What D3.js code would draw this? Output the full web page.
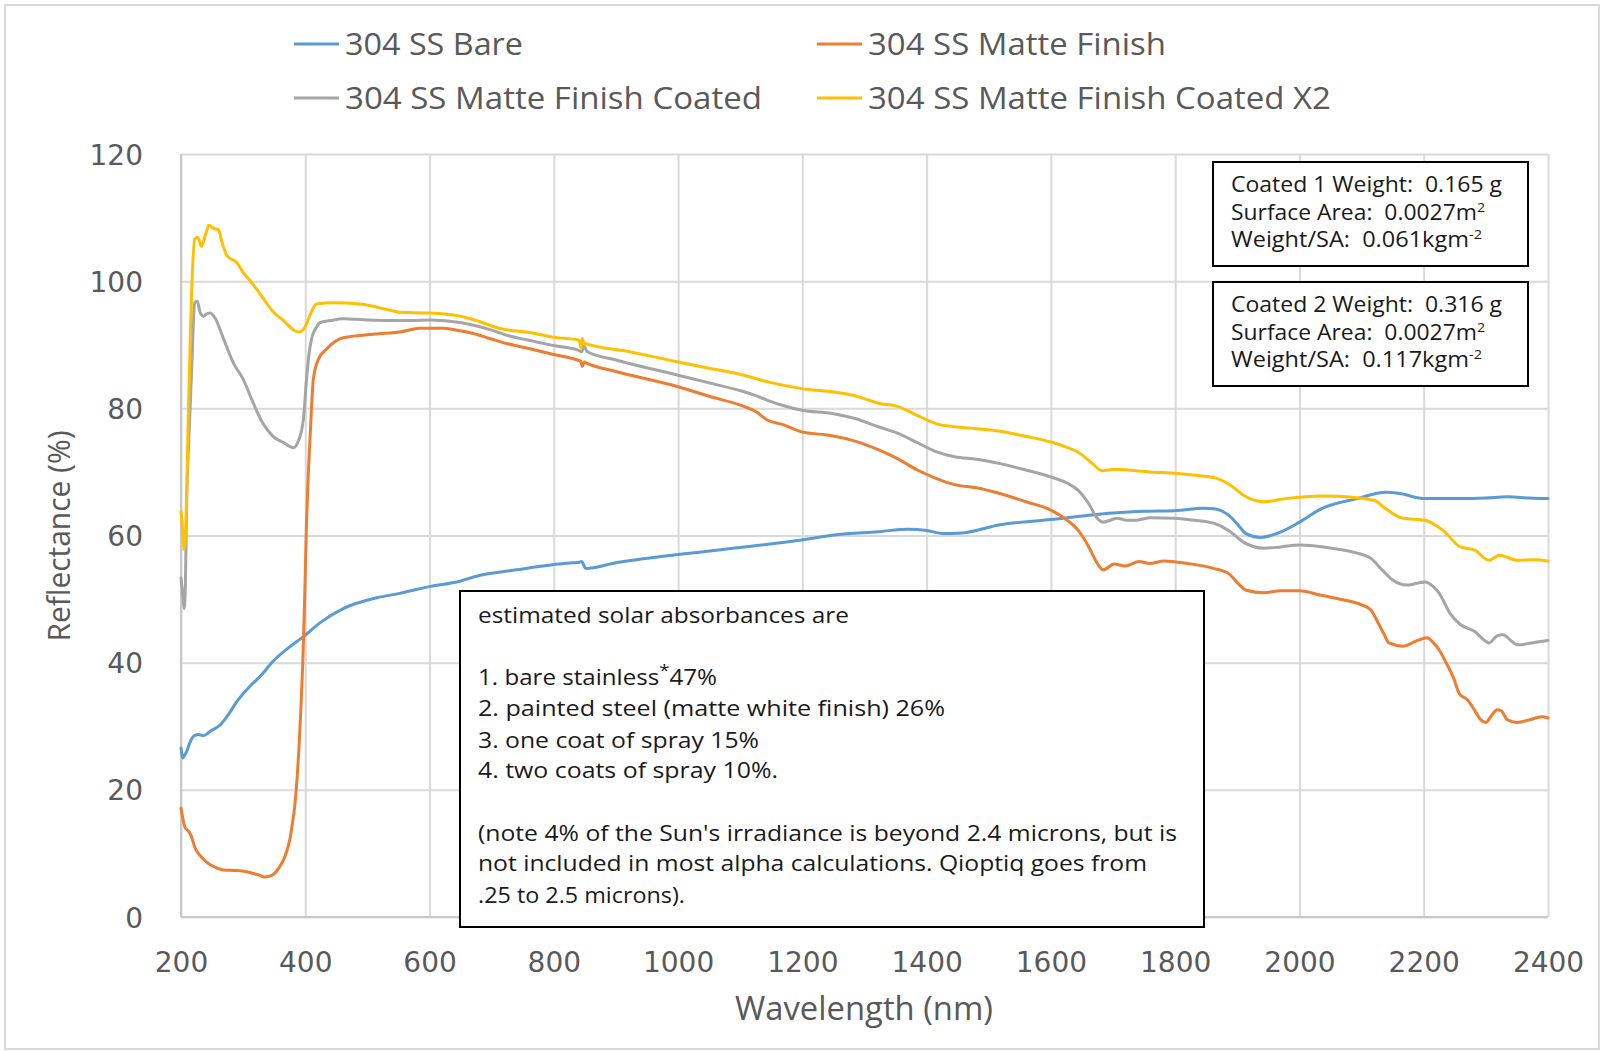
<!DOCTYPE html>
<html>
<head>
<meta charset="utf-8">
<script src="https://cdn.jsdelivr.net/npm/d3@7"></script>
<style>
  html, body { margin: 0; padding: 0; background: #fff; }
  svg { display: block; }
  text { white-space: pre; }
</style>
</head>
<body>
<svg id="chart" width="1602" height="1051"></svg>
<script>
// Reflectance spectra, [wavelength nm, reflectance %]
const bare = [[200,26.6],[203,25.0],[206,25.5],[209,26.0],[215,27.6],[220,28.4],[228,28.7],[236,28.5],[247,29.2],[263,30.2],[276,31.8],[290,33.9],[311,36.3],[327,37.8],[348,40.2],[370,42.1],[397,44.1],[424,46.3],[461,48.5],[515,50.2],[552,50.9],[601,52.0],[649,52.8],[675,53.6],[740,54.6],[798,55.4],[830,55.7],[841,55.8],[845,55.9],[848,55.4],[851,54.8],[900,55.7],[1000,57.0],[1100,58.1],[1199,59.3],[1254,60.1],[1322,60.6],[1371,61.0],[1400,60.8],[1427,60.3],[1457,60.4],[1518,61.7],[1600,62.5],[1673,63.3],[1748,63.8],[1799,63.9],[1845,64.3],[1863,64.2],[1886,63.2],[1900,61.8],[1914,60.3],[1937,59.7],[1966,60.4],[2000,62.1],[2035,64.2],[2093,65.8],[2139,66.8],[2161,66.6],[2202,65.8],[2259,65.8],[2300,65.9],[2334,66.1],[2370,65.9],[2400,65.8]];

const matte = [[200,17.1],[203,15.5],[206,14.2],[212,13.5],[217,12.6],[222,11.0],[228,10.0],[237,9.0],[247,8.2],[258,7.7],[268,7.4],[290,7.3],[311,7.0],[325,6.6],[335,6.3],[345,6.5],[351,6.9],[358,7.8],[365,9.0],[370,10.3],[375,12.1],[379,14.5],[383,17.4],[387,22.0],[390,26.8],[393,33.0],[396,40.0],[399,50.0],[402,62.0],[405,70.0],[408,76.0],[413,84.6],[421,87.7],[434,89.3],[461,91.1],[515,91.7],[552,92.0],[585,92.6],[601,92.6],[622,92.6],[649,92.2],[669,91.8],[700,90.9],[724,90.2],[760,89.4],[798,88.5],[838,87.6],[843,87.4],[846,86.6],[849,87.3],[851,87.2],[900,85.8],[1000,83.4],[1050,81.9],[1106,80.3],[1125,79.5],[1143,78.2],[1170,77.4],[1199,76.3],[1240,75.8],[1279,75.0],[1322,73.5],[1353,72.1],[1385,70.3],[1415,69.0],[1445,68.0],[1480,67.5],[1518,66.6],[1560,65.3],[1600,64.0],[1625,62.5],[1644,60.8],[1661,58.2],[1673,55.9],[1684,54.6],[1702,55.5],[1719,55.2],[1742,55.9],[1759,55.6],[1782,56.0],[1820,55.6],[1863,54.8],[1886,54.0],[1900,52.6],[1914,51.4],[1943,51.0],[1970,51.3],[2000,51.3],[2035,50.6],[2070,49.9],[2100,49.1],[2115,48.3],[2127,46.2],[2136,44.5],[2144,43.1],[2167,42.6],[2190,43.5],[2205,43.9],[2215,43.2],[2225,42.0],[2236,40.0],[2248,37.6],[2258,35.0],[2270,34.2],[2282,32.5],[2292,31.0],[2300,30.6],[2310,31.8],[2318,32.6],[2325,32.4],[2335,31.0],[2350,30.6],[2370,31.0],[2390,31.5],[2400,31.3]];

const coated = [[200,53.3],[203,50.5],[205,48.5],[207,52.0],[209,64.6],[213,76.0],[217,85.7],[222,96.6],[226,96.9],[231,95.0],[236,94.5],[242,94.9],[247,95.0],[252,94.6],[257,93.8],[265,91.8],[273,89.8],[284,87.2],[300,84.6],[316,80.9],[332,77.6],[348,75.6],[365,74.6],[381,73.8],[389,74.9],[394,76.5],[397,78.3],[402,84.6],[406,88.5],[410,90.9],[417,92.6],[424,93.5],[440,93.8],[461,94.1],[500,93.9],[542,93.8],[570,93.8],[601,93.9],[649,93.5],[669,93.1],[700,92.3],[724,91.5],[760,90.7],[798,89.9],[838,89.2],[845,88.9],[848,89.8],[854,88.9],[900,87.6],[1000,85.2],[1050,84.0],[1106,82.6],[1125,82.0],[1143,81.3],[1170,80.4],[1199,79.7],[1248,79.2],[1285,78.4],[1322,77.1],[1353,76.1],[1385,74.6],[1415,73.2],[1445,72.4],[1480,72.0],[1518,71.3],[1560,70.3],[1600,69.2],[1625,68.3],[1644,67.1],[1661,65.0],[1673,62.9],[1684,62.1],[1707,62.7],[1722,62.4],[1736,62.4],[1760,62.8],[1799,62.7],[1830,62.4],[1863,61.9],[1886,60.8],[1909,59.0],[1943,58.0],[1970,58.2],[2000,58.5],[2052,58.0],[2090,57.3],[2115,56.4],[2133,54.6],[2150,53.0],[2173,52.2],[2202,52.7],[2215,52.0],[2225,50.9],[2242,47.8],[2259,46.0],[2282,44.9],[2298,43.5],[2305,43.1],[2318,44.2],[2328,44.4],[2340,43.5],[2351,42.8],[2380,43.2],[2400,43.5]];

const coatedX2 = [[200,63.8],[203,60.5],[205,57.8],[208,62.0],[212,80.0],[217,98.0],[222,106.6],[227,106.9],[233,105.5],[240,107.5],[245,108.8],[252,108.3],[260,108.1],[266,106.1],[274,104.0],[290,102.9],[300,101.4],[311,100.1],[322,98.7],[333,97.2],[349,95.1],[365,93.8],[383,92.2],[390,92.0],[397,92.4],[402,93.3],[407,94.5],[418,96.4],[445,96.6],[488,96.4],[542,95.3],[552,95.1],[601,95.0],[649,94.5],[669,94.0],[712,92.6],[768,91.8],[798,91.2],[841,90.7],[844,89.4],[846,91.0],[848,90.3],[922,88.9],[1000,87.3],[1050,86.3],[1106,85.2],[1143,84.2],[1199,83.1],[1248,82.6],[1291,81.8],[1322,80.8],[1353,80.3],[1385,78.9],[1415,77.6],[1445,77.1],[1480,76.8],[1518,76.4],[1560,75.6],[1600,74.7],[1625,73.9],[1644,73.1],[1667,71.3],[1682,70.2],[1702,70.4],[1736,70.2],[1760,70.0],[1799,69.8],[1830,69.5],[1863,69.1],[1886,68.1],[1914,66.1],[1943,65.3],[1978,65.8],[2035,66.2],[2087,66.0],[2121,65.5],[2139,64.2],[2167,62.7],[2202,62.4],[2231,60.8],[2259,58.2],[2282,57.7],[2305,56.1],[2322,56.9],[2351,56.1],[2380,56.2],[2400,56.0]];

const seriesNames = ["304 SS Bare", "304 SS Matte Finish", "304 SS Matte Finish Coated", "304 SS Matte Finish Coated X2"];
const seriesColors = ["#5b9bd5", "#ed7d31", "#a5a5a5", "#ffc000"];
const seriesData = [bare, matte, coated, coatedX2];

const xTicks = d3.range(200, 2401, 200);
const yTicks = d3.range(0, 121, 20);

const coat1Lines = ["Coated 1 Weight:  0.165 g", "Surface Area:  0.0027m", "Weight/SA:  0.061kgm"];
const coat2Lines = ["Coated 2 Weight:  0.316 g", "Surface Area:  0.0027m", "Weight/SA:  0.117kgm"];
const noteLines = [
  "estimated solar absorbances are",
  "1. bare stainless|*|47%",
  "2. painted steel (matte white finish) 26%",
  "3. one coat of spray 15%",
  "4. two coats of spray 10%.",
  "(note 4% of the Sun's irradiance is beyond 2.4 microns, but is",
  "not included in most alpha calculations. Qioptiq goes from",
  ".25 to 2.5 microns)."
];

const svg = d3.select("#chart");
const plot = { left: 181, right: 1548, top: 154, bottom: 917 };
const x = d3.scaleLinear().domain([200, 2400]).range([plot.left, plot.right]);
const y = d3.scaleLinear().domain([0, 120]).range([plot.bottom, plot.top]);

// chart outline
svg.append("rect").attr("x", 5).attr("y", 5).attr("width", 1594).attr("height", 1044)
  .attr("fill", "#fff").attr("stroke", "#d9d9d9").attr("stroke-width", 2);

const tickFont = "'DejaVu Sans', sans-serif";
const textFont = "'Open Sans', sans-serif";

// horizontal gridlines + y labels
const yAxis = svg.append("g").attr("transform", `translate(${plot.left},0)`)
  .call(d3.axisLeft(y).tickValues(yTicks).tickSize(-(plot.right - plot.left)).tickPadding(38).tickFormat(d3.format("d")));
yAxis.select(".domain").remove();
yAxis.selectAll(".tick line").attr("stroke", "#d9d9d9").attr("stroke-width", 2);
yAxis.selectAll(".tick text").attr("font-family", tickFont).attr("font-size", 28).attr("fill", "#595959").attr("dy", "0.36em");

// vertical gridlines + x labels
const xAxis = svg.append("g").attr("transform", `translate(0,${plot.bottom})`)
  .call(d3.axisBottom(x).tickValues(xTicks).tickSize(-(plot.bottom - plot.top)).tickFormat(d3.format("d")));
xAxis.select(".domain").remove();
xAxis.selectAll(".tick line").attr("stroke", "#d9d9d9").attr("stroke-width", 2);
xAxis.selectAll(".tick text").attr("font-family", tickFont).attr("font-size", 28).attr("fill", "#595959")
  .attr("y", 45).attr("dy", "0.36em");

// axis lines
svg.append("line").attr("x1", plot.left).attr("x2", plot.left).attr("y1", plot.top).attr("y2", plot.bottom)
  .attr("stroke", "#c8c8c8").attr("stroke-width", 2);
svg.append("line").attr("x1", plot.left).attr("x2", plot.right).attr("y1", plot.bottom).attr("y2", plot.bottom)
  .attr("stroke", "#c8c8c8").attr("stroke-width", 2);

// axis titles
svg.append("text").attr("x", 864).attr("y", 1020).attr("text-anchor", "middle")
  .attr("font-family", textFont).attr("font-size", 32).attr("fill", "#595959")
  .attr("textLength", 258).attr("lengthAdjust", "spacingAndGlyphs").text("Wavelength (nm)");
svg.append("text").attr("transform", "translate(70,536) rotate(-90)").attr("text-anchor", "middle")
  .attr("font-family", textFont).attr("font-size", 31).attr("fill", "#595959")
  .attr("textLength", 211).attr("lengthAdjust", "spacingAndGlyphs").text("Reflectance (%)");

// spectra
const line = d3.line().x(d => x(d[0])).y(d => y(d[1])).curve(d3.curveMonotoneX);
svg.append("g").selectAll("path").data(seriesData).join("path")
  .attr("d", line).attr("fill", "none")
  .attr("stroke", (d, i) => seriesColors[i]).attr("stroke-width", 3)
  .attr("stroke-linejoin", "round").attr("stroke-linecap", "round");

// legend
const legendPos = [[294, 44, 178], [817, 44, 298], [294, 98, 417], [817, 98, 463]];
const legend = svg.append("g");
seriesNames.forEach((name, i) => {
  const [lx, ly, len] = legendPos[i];
  legend.append("line").attr("x1", lx).attr("x2", lx + 45).attr("y1", ly).attr("y2", ly)
    .attr("stroke", seriesColors[i]).attr("stroke-width", 3);
  legend.append("text").attr("x", lx + 51).attr("y", ly).attr("dy", "0.36em")
    .attr("font-family", textFont).attr("font-size", 31).attr("fill", "#595959")
    .attr("textLength", len).attr("lengthAdjust", "spacingAndGlyphs").text(name);
});

// coating weight boxes
function weightBox(lines, top, lens) {
  const g = svg.append("g");
  g.append("rect").attr("x", 1213).attr("y", top).attr("width", 315).attr("height", 104)
    .attr("fill", "#fff").attr("stroke", "#000").attr("stroke-width", 2);
  lines.forEach((t, i) => {
    const el = g.append("text").attr("x", 1231).attr("y", top + 30 + i * 27.5)
      .attr("font-family", textFont).attr("font-size", 21).attr("fill", "#1a1a1a")
      .attr("textLength", lens[i]).attr("lengthAdjust", "spacingAndGlyphs");
    el.append("tspan").text(t);
    if (i === 1) el.append("tspan").attr("font-size", 13).attr("dy", -8).text("2");
    if (i === 2) el.append("tspan").attr("font-size", 13).attr("dy", -8).text("-2");
  });
}
weightBox(coat1Lines, 162, [271, 254, 251]);
weightBox(coat2Lines, 282, [271, 254, 251]);

// solar absorbance note
const note = svg.append("g");
note.append("rect").attr("x", 460).attr("y", 591).attr("width", 744).attr("height", 336)
  .attr("fill", "#fff").attr("stroke", "#000").attr("stroke-width", 2);
const noteY = [615, 677, 708, 740, 770, 833, 863, 895];
const noteLen = [371, 239, 467, 281, 300, 699, 669, 207];
noteLines.forEach((t, i) => {
  const el = note.append("text").attr("x", 478).attr("y", noteY[i]).attr("dy", "0.36em")
    .attr("font-family", textFont).attr("font-size", 22).attr("fill", "#1a1a1a")
    .attr("textLength", noteLen[i]).attr("lengthAdjust", "spacingAndGlyphs");
  const parts = t.split("|");
  if (parts.length === 3) {
    el.append("tspan").text(parts[0]);
    el.append("tspan").attr("font-size", 17).attr("dy", -9).text(parts[1]);
    el.append("tspan").attr("dy", 9).text(parts[2]);
  } else {
    el.text(t);
  }
});
</script>
</body>
</html>
